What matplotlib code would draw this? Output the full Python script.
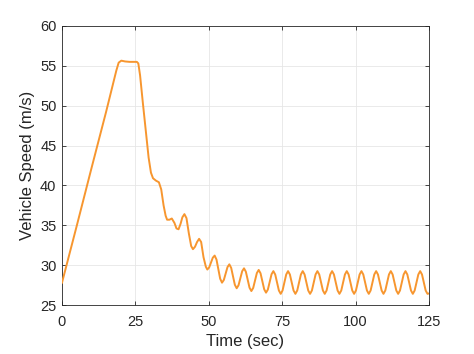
import matplotlib
matplotlib.use("Agg")
import matplotlib.pyplot as plt
import numpy as np

plt.rcParams["font.family"] = ["Liberation Sans", "DejaVu Sans"]

# ---------------------------------------------------------------------------
# Data
# ---------------------------------------------------------------------------
# ramp-up, plateau and the first drop (irregular samples)
T_EARLY = [0, 5, 10, 15, 18.5, 19.3, 20.2, 21.5, 23.0, 25.5, 26.0, 26.6,
           27.5, 28.5, 29.5, 30.3, 31.0, 32.0, 33.0, 33.8, 34.6, 35.3,
           35.8, 36.6, 37.4, 38.3, 39.0, 39.7, 40.4, 41.0, 41.7, 42.4,
           43.2, 44.0, 44.6, 45.3, 46.0, 46.7, 47.4, 48.2, 49.0]
V_EARLY = [27.8, 34.9, 42.1, 49.2, 54.4, 55.4, 55.65, 55.55, 55.5, 55.5,
           55.3, 53.8, 50.5, 47.0, 43.5, 41.6, 40.9, 40.6, 40.4, 39.5,
           37.5, 36.2, 35.7, 35.7, 35.85, 35.3, 34.6, 34.5, 35.2, 36.0,
           36.4, 35.9, 34.0, 32.4, 32.0, 32.3, 32.9, 33.3, 32.9, 31.0,
           29.8]

# oscillating tail, sampled every 0.625 s from 49.5 s
T_OSC_START = 49.5
T_OSC_STEP = 0.625
V_OSC = [
    29.45, 29.71, 30.33, 30.94, 31.20, 30.70, 29.50, 28.30,
    27.80, 28.14, 28.95, 29.76, 30.10, 29.66, 28.60, 27.54,
    27.10, 27.47, 28.35, 29.24, 29.60, 29.18, 28.18, 27.17,
    26.75, 27.14, 28.08, 29.01, 29.40, 28.98, 27.98, 26.97,
    26.55, 26.94, 27.90, 28.86, 29.25,
    28.83, 27.83, 26.82, 26.40, 26.82, 27.83, 28.83, 29.25,
    28.83, 27.83, 26.82, 26.40, 26.82, 27.83, 28.83, 29.25,
    28.83, 27.83, 26.82, 26.40, 26.82, 27.83, 28.83, 29.25,
    28.83, 27.83, 26.82, 26.40, 26.82, 27.83, 28.83, 29.25,
    28.83, 27.83, 26.82, 26.40, 26.82, 27.83, 28.83, 29.25,
    28.83, 27.83, 26.82, 26.40, 26.82, 27.83, 28.83, 29.25,
    28.83, 27.83, 26.82, 26.40, 26.82, 27.83, 28.83, 29.25,
    28.83, 27.83, 26.82, 26.40, 26.82, 27.83, 28.83, 29.25,
    28.83, 27.83, 26.82, 26.40, 26.82, 27.83, 28.83, 29.25,
    28.83, 27.83, 26.82, 26.40, 26.82, 27.83, 28.83, 29.25,
    28.83, 27.83, 26.82, 26.40,
]
T_END = 125.0
V_END = 26.45

X_TICKS = [0, 25, 50, 75, 100, 125]
Y_TICKS = [25, 30, 35, 40, 45, 50, 55, 60]

LINE_COLOR = "#f7962f"
AXIS_COLOR = "#262626"

# ---------------------------------------------------------------------------
t_osc = T_OSC_START + T_OSC_STEP * np.arange(len(V_OSC))
t = np.concatenate([T_EARLY, t_osc, [T_END]])
v = np.concatenate([V_EARLY, V_OSC, [V_END]])

fig = plt.figure(figsize=(4.74, 3.54), dpi=100)
ax = fig.add_axes([0.1308, 0.1384, 0.905 - 0.1308, 0.9266 - 0.1384])

ax.plot(t, v, color=LINE_COLOR, linewidth=1.4, zorder=3)

ax.set_xlim(0, 125)
ax.set_ylim(25, 60)
ax.set_xticks(X_TICKS)
ax.set_yticks(Y_TICKS)
ax.grid(True, color="#e6e6e6", linewidth=0.6)
ax.set_axisbelow(True)

for sp in ax.spines.values():
    sp.set_color(AXIS_COLOR)
    sp.set_linewidth(0.6)
ax.tick_params(direction="in", length=3, width=0.6, color=AXIS_COLOR,
               labelcolor=AXIS_COLOR, labelsize=10.5, top=True, right=True)
ax.tick_params(axis="x", pad=7)
ax.tick_params(axis="y", pad=4)

ax.set_xlabel("Time (sec)", fontsize=12, color=AXIS_COLOR, labelpad=4)
ax.set_ylabel("Vehicle Speed (m/s)", fontsize=12, color=AXIS_COLOR, labelpad=4)

fig.savefig("out.png", dpi=100)
